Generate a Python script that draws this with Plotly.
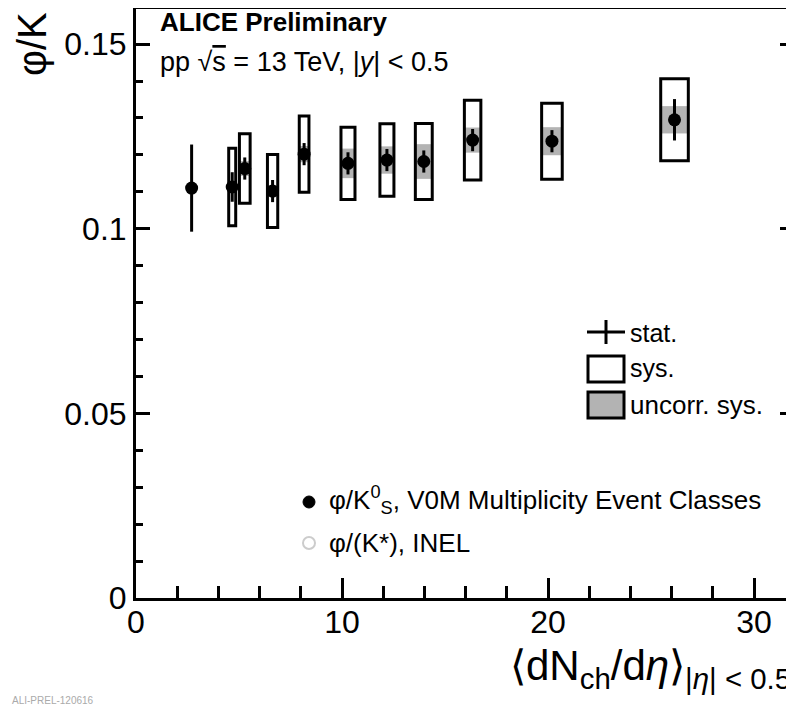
import plotly.graph_objects as go

# ---- data ----
dndeta = [2.70, 4.67, 5.28, 6.63, 8.16, 10.29, 12.18, 13.97, 16.34, 20.19, 26.14]
ratio = [0.1110, 0.1113, 0.1163, 0.1102, 0.1202, 0.1177, 0.1186, 0.1182, 0.1240, 0.1237, 0.1295]
stat_err = [0.0118, 0.0040, 0.0030, 0.0030, 0.0030, 0.0030, 0.0030, 0.0030, 0.0030, 0.0030, 0.0056]
sys_err = [0.0, 0.0105, 0.0094, 0.0099, 0.0103, 0.0098, 0.0098, 0.0103, 0.0108, 0.0103, 0.0111]
uncorr_err = [0.0, 0.0, 0.0020, 0.0015, 0.0022, 0.0040, 0.0037, 0.0047, 0.0034, 0.0038, 0.0037]
x_err = [0.0, 0.17, 0.26, 0.25, 0.235, 0.34, 0.34, 0.41, 0.40, 0.50, 0.67]

y_ticks = [0, 0.05, 0.1, 0.15]
y_ticktext = ["0", "0.05", "0.1", "0.15"]
x_ticks = [0, 10, 20, 30]

# the page body has an 8px margin; work in view pixels and shift
OFF = 8
VW, VH = 794, 707
W, H = VW - OFF, VH - OFF
PL, PR, PT, PB = 136, 794, 9, 598          # plot area in view pixels
L, R, T, B = PL - OFF, VW - PR, PT - OFF, VH - PB
PW, PH = W - L - R, H - T - B
FONT = "Liberation Sans, Arial, sans-serif"
GREY = "#b3b3b3"


def px(xv):
    return (xv - OFF - L) / PW


def py(yv):
    return (H - B - (yv - OFF)) / PH


fig = go.Figure()

shapes = []
for xv, yv, u, hw in zip(dndeta, ratio, uncorr_err, x_err):
    if u > 0 and hw > 0:
        shapes.append(dict(type="rect", xref="x", yref="y", x0=xv - hw, x1=xv + hw,
                           y0=yv - u, y1=yv + u, fillcolor=GREY, line=dict(width=0),
                           layer="below"))
for xv, yv, s, hw in zip(dndeta, ratio, sys_err, x_err):
    if s > 0 and hw > 0:
        shapes.append(dict(type="rect", xref="x", yref="y", x0=xv - hw, x1=xv + hw,
                           y0=yv - s, y1=yv + s, fillcolor="rgba(0,0,0,0)",
                           line=dict(color="black", width=3), layer="below"))

fig.add_trace(go.Scatter(
    x=dndeta, y=ratio, mode="markers",
    marker=dict(color="black", size=13, symbol="circle"),
    error_y=dict(type="data", array=stat_err, visible=True, color="black",
                 thickness=3, width=0),
    showlegend=False, hoverinfo="skip"))

fig.add_trace(go.Scatter(x=[0], y=[0], yaxis="y2", mode="markers",
                         marker=dict(opacity=0), showlegend=False, hoverinfo="skip"))

# ---- legend (upper) ----
shapes.append(dict(type="line", xref="paper", yref="paper", x0=px(587), x1=px(625),
                   y0=py(332), y1=py(332), line=dict(color="black", width=3)))
shapes.append(dict(type="line", xref="paper", yref="paper", x0=px(606), x1=px(606),
                   y0=py(320), y1=py(344), line=dict(color="black", width=3)))
shapes.append(dict(type="rect", xref="paper", yref="paper", x0=px(588), x1=px(624),
                   y0=py(356), y1=py(382), line=dict(color="black", width=3),
                   fillcolor="white"))
shapes.append(dict(type="rect", xref="paper", yref="paper", x0=px(588), x1=px(624),
                   y0=py(392), y1=py(418), line=dict(color="black", width=3),
                   fillcolor=GREY))
# lower legend markers
shapes.append(dict(type="circle", xref="paper", yref="paper", x0=px(303), x1=px(315),
                   y0=py(496), y1=py(508), line=dict(color="black", width=1),
                   fillcolor="black"))
shapes.append(dict(type="circle", xref="paper", yref="paper", x0=px(303), x1=px(315),
                   y0=py(537), y1=py(549), line=dict(color="#cccccc", width=2),
                   fillcolor="white"))

ann = []


def text(xv, yv, s, size, xanchor="left", yanchor="middle", color="black", angle=0, bold=False):
    if bold:
        s = "<b>" + s + "</b>"
    ann.append(dict(x=px(xv), y=py(yv), xref="paper", yref="paper", text=s,
                    showarrow=False, xanchor=xanchor, yanchor=yanchor, textangle=angle,
                    font=dict(family=FONT, size=size, color=color)))


text(158, 22, "ALICE Preliminary", 26, bold=True)
text(158, 62, "pp √<span style='text-decoration:overline'>s</span> = 13 TeV, |<i>y</i>| &lt; 0.5", 27)
text(628, 333, "stat.", 25)
text(628, 368, "sys.", 25)
text(628, 405, "uncorr. sys.", 26)
text(327, 500, "φ/K<sup>0</sup><sub>S</sub>, V0M Multiplicity Event Classes", 26)
text(327, 543, "φ/(K*), INEL", 26)
text(32, 44, "φ/K", 40, xanchor="center", angle=-90)
text(793, 668, "⟨dN<sub>ch</sub>/d<i>η</i>⟩<sub>|<i>η</i>| &lt; 0.5</sub>", 42, xanchor="right")
text(10, 700, "ALI-PREL-120616", 10, color="#aaaaaa")

axis_font = dict(family=FONT, size=32, color="black")

fig.update_layout(
    width=W, height=H,
    margin=dict(l=L, r=R, t=T, b=B, pad=0, autoexpand=False),
    paper_bgcolor="white", plot_bgcolor="white",
    shapes=shapes, annotations=ann,
    xaxis=dict(range=[0, 31.94], tickvals=x_ticks, ticks="inside", ticklen=20,
               tickwidth=3, tickcolor="black", showline=True, linewidth=3,
               linecolor="black", mirror=True, showgrid=False, zeroline=False,
               tickfont=axis_font, ticklabelstandoff=-6, automargin=False,
               minor=dict(dtick=2, ticks="inside", ticklen=12, tickwidth=3,
                          tickcolor="black", showgrid=False)),
    yaxis=dict(range=[0, 0.1595], tickvals=y_ticks, ticktext=y_ticktext, ticks="inside",
               ticklen=14, tickwidth=3, tickcolor="black", showline=True, linewidth=3,
               linecolor="black", mirror=False, showgrid=False, zeroline=False,
               tickfont=axis_font, automargin=False,
               minor=dict(dtick=0.01, ticks="inside", ticklen=7, tickwidth=3,
                          tickcolor="black", showgrid=False)),
    yaxis2=dict(range=[0, 0.1595], overlaying="y", side="right", tickvals=y_ticks,
                ticks="inside", ticklen=14, tickwidth=3, tickcolor="black",
                showticklabels=False, showline=False, showgrid=False, zeroline=False,
                automargin=False,
                minor=dict(dtick=0.01, ticks="inside", ticklen=7, tickwidth=3,
                           tickcolor="black", showgrid=False)),
    showlegend=False,
)

fig.write_html("out.html")
